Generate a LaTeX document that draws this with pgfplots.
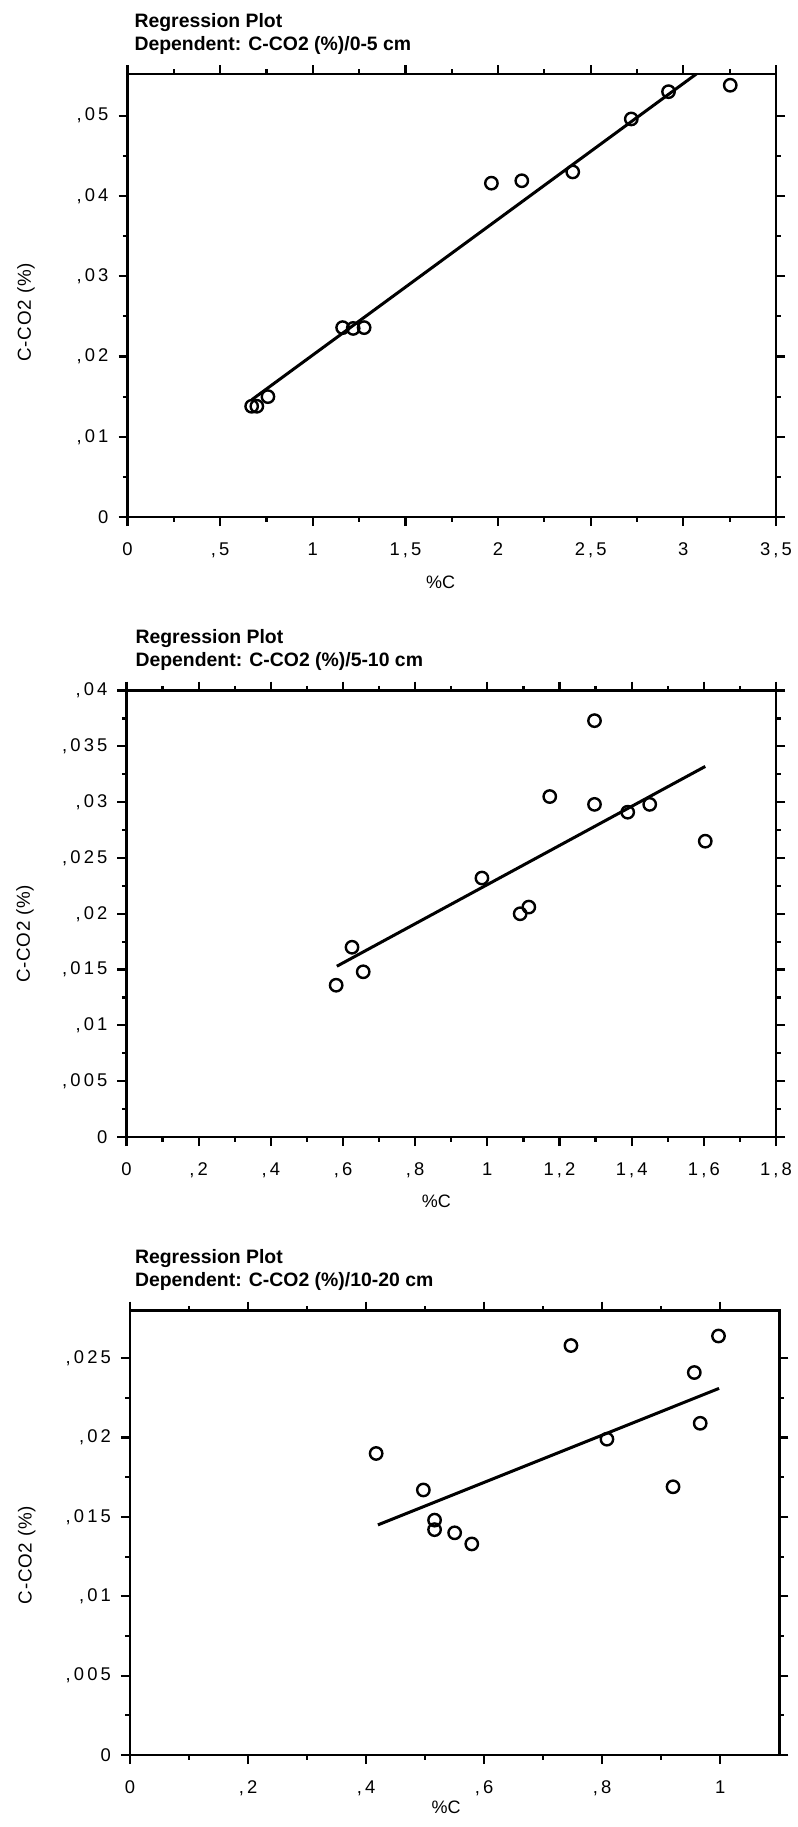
\documentclass[border=0pt]{standalone}
\usepackage{fontspec}
\setmainfont{Liberation Sans}
\newfontfamily\tickfont[LetterSpace=17]{Liberation Sans}
\newfontfamily\labelfont[LetterSpace=4]{Liberation Sans}
\usepackage{pgfplots}
\usepackage{pgfplotstable}
\pgfplotsset{compat=1.18}

% %C vs C-CO2 (%) for the three depth layers
\pgfplotstableread{
x y
0.670 0.0138
0.698 0.0138
0.758 0.0150
1.161 0.0236
1.218 0.0235
1.277 0.0236
1.964 0.0416
2.128 0.0419
2.403 0.0430
2.719 0.0496
2.920 0.0530
3.253 0.0538
}\layerA
\pgfplotstableread{
x y
0.581 0.0136
0.625 0.0170
0.656 0.0148
0.985 0.0232
1.091 0.0200
1.115 0.0206
1.173 0.0305
1.297 0.0373
1.297 0.0298
1.389 0.0291
1.450 0.0298
1.604 0.0265
}\layerB
\pgfplotstableread{
x y
0.417 0.0190
0.497 0.0167
0.516 0.0148
0.516 0.0142
0.550 0.0140
0.579 0.0133
0.747 0.0258
0.808 0.0199
0.920 0.0169
0.956 0.0241
0.966 0.0209
0.997 0.0264
}\layerC

\pgfplotsset{
  regplot/.style={
    scale only axis,
    anchor=south west,
    axis line style={line width=1.3pt},
    tick align=outside,
    major tick length=4.5pt,
    minor tick length=2.3pt,
    every tick/.style={black, line width=1.1pt},
    tick label style={font=\tickfont\fontsize{9.2}{10}\selectfont},
    xticklabel style={yshift=-5pt},
    yticklabel style={xshift=-1.5pt},
    minor x tick num=1,
    minor y tick num=1,
    scaled ticks=false,
    clip mode=individual,
  },
  pts/.style={only marks, mark=o, mark size=3.1pt, mark options={line width=1.2pt, black}},
  fit/.style={black, line width=1.5pt, no marks},
}
\newcommand\regtitle[2]{%
  \node[anchor=base west, font=\bfseries\fontsize{9.7}{11}\selectfont] at ([xshift=#2, yshift=23.5pt]rel axis cs:0,1) {Regression Plot};
  \node[anchor=base west, font=\bfseries\fontsize{9.7}{11}\selectfont] at ([xshift=#2, yshift=12pt]rel axis cs:0,1) {Dependent: C-CO2 (\%)/#1};
}

\begin{document}
\begin{tikzpicture}
\path[use as bounding box] (0,0) rectangle (399pt,-913.5pt);

% 0-5 cm
\begin{axis}[regplot,
  at={(63.75pt,-258.5pt)}, width=324.25pt, height=221.5pt,
  xmin=0, xmax=3.5, ymin=0, ymax=0.0552,
  xtick={0,0.5,1,1.5,2,2.5,3,3.5},
  xticklabels={0,{,5},1,{1,5},2,{2,5},3,{3,5}},
  ytick={0,0.01,0.02,0.03,0.04,0.05},
  yticklabels={0,{,01},{,02},{,03},{,04},{,05}},
]
\addplot[pts] table {\layerA};
\addplot[fit] coordinates {(0.670,0.0146) (3.253,0.0583)};
\regtitle{0-5 cm}{0pt}
\node[rotate=90, font=\labelfont\fontsize{9.4}{10}\selectfont] at ([xshift=-50.75pt]rel axis cs:0,0.462) {C-CO2 (\%)};
\node[anchor=base, font=\fontsize{9}{10}\selectfont] at ([yshift=-35.5pt]rel axis cs:0.483,0) {\%C};
\end{axis}

% 5-10 cm
\begin{axis}[regplot,
  at={(63.25pt,-568.5pt)}, width=324.75pt, height=223.25pt,
  xmin=0, xmax=1.8, ymin=0, ymax=0.04,
  xtick={0,0.2,0.4,0.6,0.8,1,1.2,1.4,1.6,1.8},
  xticklabels={0,{,2},{,4},{,6},{,8},1,{1,2},{1,4},{1,6},{1,8}},
  ytick={0,0.005,0.01,0.015,0.02,0.025,0.03,0.035,0.04},
  yticklabels={0,{,005},{,01},{,015},{,02},{,025},{,03},{,035},{,04}},
]
\addplot[pts] table {\layerB};
\addplot[fit] coordinates {(0.583,0.0153) (1.604,0.0332)};
\regtitle{5-10 cm}{1pt}
\node[rotate=90, font=\labelfont\fontsize{9.4}{10}\selectfont] at ([xshift=-50.75pt]rel axis cs:0,0.455) {C-CO2 (\%)};
\node[anchor=base, font=\fontsize{9}{10}\selectfont] at ([yshift=-35pt]rel axis cs:0.477,0) {\%C};
\end{axis}

% 10-20 cm
\begin{axis}[regplot,
  at={(65pt,-877.5pt)}, width=324.65pt, height=222.2pt,
  xmin=0, xmax=1.1, ymin=0, ymax=0.028,
  xtick={0,0.2,0.4,0.6,0.8,1},
  xticklabels={0,{,2},{,4},{,6},{,8},1},
  ytick={0,0.005,0.01,0.015,0.02,0.025},
  yticklabels={0,{,005},{,01},{,015},{,02},{,025}},
]
\addplot[pts] table {\layerC};
\addplot[fit] coordinates {(0.420,0.0145) (0.998,0.0231)};
\regtitle{10-20 cm}{-1pt}
\node[rotate=90, font=\labelfont\fontsize{9.4}{10}\selectfont] at ([xshift=-51.6pt]rel axis cs:0,0.45) {C-CO2 (\%)};
\node[anchor=base, font=\fontsize{9}{10}\selectfont] at ([yshift=-29pt]rel axis cs:0.487,0) {\%C};
\end{axis}
\end{tikzpicture}
\end{document}
